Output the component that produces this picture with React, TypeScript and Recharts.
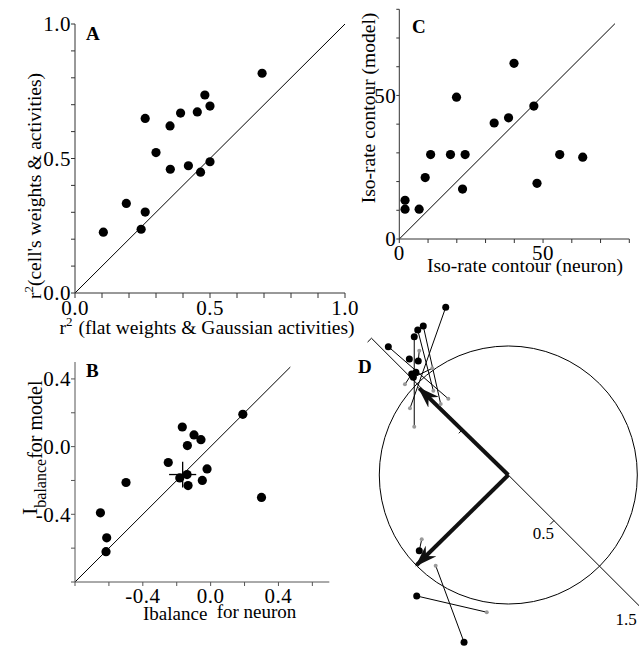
import { ReferenceDot, ReferenceLine, Scatter, ScatterChart, XAxis, YAxis } from "recharts";

const FONT = '"Liberation Serif", "Times New Roman", Times, serif';

// A: r² of the two fits for each cell
const aFlatR2 = [0.105, 0.19, 0.26, 0.245, 0.26, 0.3, 0.352, 0.353, 0.391, 0.42, 0.453, 0.465, 0.481, 0.5, 0.5, 0.693];
const aCellR2 = [0.226, 0.333, 0.301, 0.237, 0.649, 0.522, 0.621, 0.46, 0.669, 0.473, 0.673, 0.449, 0.736, 0.695, 0.488, 0.817];
const aTicks = [0, 0.1, 0.2, 0.3, 0.4, 0.5, 0.6, 0.7, 0.8, 0.9, 1];
const aTickLabels = [0, 0.5, 1];

// B: I_balance, neuron vs model
const bNeuron = [0.19, -0.167, -0.098, -0.057, -0.137, -0.25, -0.021, -0.182, -0.139, -0.133, -0.049, -0.499, 0.3, -0.65, -0.613, -0.617];
const bModel = [0.191, 0.116, 0.069, 0.041, 0.006, -0.094, -0.132, -0.185, -0.165, -0.23, -0.2, -0.212, -0.3, -0.391, -0.539, -0.621];
const bMean = [-0.165, -0.165]; // neuron, model
const bSpread = [0.08, 0.076];
const bXTicks = [-0.8, -0.6, -0.4, -0.2, 0, 0.2, 0.4, 0.6];
const bYTicks = [-0.8, -0.6, -0.4, -0.2, 0, 0.2, 0.4];
const bTickLabels = [-0.4, 0, 0.4];

// C: iso-rate contour, neuron vs model
const cNeuron = [2, 2, 6.9, 9, 10.9, 17.8, 19.9, 22, 22.9, 33, 38, 39.9, 46.8, 47.9, 55.8, 63.8];
const cModel = [13.5, 10.4, 10.4, 21.4, 29.4, 29.4, 49.4, 17.4, 29.4, 40.4, 42.2, 61.2, 46.3, 19.4, 29.4, 28.5];
const cTicks = [0, 10, 20, 30, 40, 50, 60, 70, 80];
const cTickLabels = [0, 50];

// D: neuron (black) and model (grey) vectors, plus the two mean vectors
const dNeuronX = [-0.485, -0.93, -0.659, -0.702, -0.729, -0.698, -0.749, -0.736, -0.767, -0.716, -0.69, -0.343, -0.71];
const dNeuronY = [1.3, 0.995, 1.155, 1.124, 1.072, 0.884, 0.783, 0.757, 0.899, 0.796, -0.587, -1.297, -0.938];
const dModelX = [-0.762, -0.465, -0.524, -0.581, -0.729, -0.69, -0.801, -0.589, null, null, -0.671, -0.563, -0.167];
const dModelY = [0.517, 0.591, 0.55, 0.653, 0.374, 0.964, 0.703, 0.827, null, null, -0.498, -0.703, -1.064];
const dMeanX = [-0.69, -0.71];
const dMeanY = [0.672, -0.698];
const dAxisTicks = [-1.5, -0.5, 0.5, 1.5];
const dAxisLabels = [0.5, 1.5];

const labelOnly = (labels: number[], digits: number) => (v: number) =>
    labels.some((l) => Math.abs(l - v) < 1e-6) ? v.toFixed(digits) : "";

const dot = (r: number, fill: string) => (p: any) => <circle cx={p.cx} cy={p.cy} r={r} fill={fill} />;

const TICK_FONT = 21;

const axisStyle = {
    type: "number" as const,
    stroke: "#333",
    fontSize: TICK_FONT,
    tick: { fontSize: TICK_FONT, fill: "#000", fontFamily: FONT, letterSpacing: 0.5 },
    tickMargin: 0,
    interval: 0 as const,
    allowDataOverflow: true,
};

const letter = { fontSize: 19, fontWeight: 700, fontFamily: FONT };
const title = { fontFamily: FONT, fill: "#000" };

function PanelA() {
    const data = aFlatR2.map((x, i) => ({ x, y: aCellR2[i] }));
    return (
        <ScatterChart width={360} height={345} margin={{ top: 24, right: 15, bottom: 0, left: 0 }}>
            <XAxis {...axisStyle} dataKey="x" domain={[0, 1]} ticks={aTicks} tickFormatter={labelOnly(aTickLabels, 1)} height={52} tickSize={5} tickMargin={2} />
            <YAxis {...axisStyle} dataKey="y" domain={[0, 1]} ticks={aTicks} tickFormatter={labelOnly(aTickLabels, 1)} width={75} tickSize={4} />
            <ReferenceLine segment={[{ x: 0, y: 0 }, { x: 1, y: 1 }]} stroke="#000" ifOverflow="visible" />
            <Scatter data={data} shape={dot(4.6, "#000")} isAnimationActive={false} />
            <text x={86} y={40} {...letter}>A</text>
            <text x={207} y={334} textAnchor="middle" fontSize={19.5} {...title}>
                r<tspan fontSize={13} dy={-8}>2</tspan>
                <tspan dy={8} dx={6}>(flat weights &amp; Gaussian activities)</tspan>
            </text>
            <text x={41} y={186} transform="rotate(-90, 41, 186)" textAnchor="middle" fontSize={19.5} {...title}>
                r<tspan fontSize={13} dy={-8}>2</tspan>
                <tspan dy={8}>(cell's weights &amp; activities)</tspan>
            </text>
        </ScatterChart>
    );
}

function PanelB() {
    const data = bNeuron.map((x, i) => ({ x, y: bModel[i] }));
    const [mx, my] = bMean;
    const [sx, sy] = bSpread;
    return (
        <ScatterChart width={340} height={306} margin={{ top: 22, right: 10.7, bottom: 0, left: 0 }}>
            <XAxis {...axisStyle} stroke="#555" dataKey="x" domain={[-0.8, 0.7]} ticks={bXTicks} tickFormatter={labelOnly(bTickLabels, 1)} height={64} tickSize={4} tickMargin={2} />
            <YAxis {...axisStyle} stroke="#555" dataKey="y" domain={[-0.8, 0.5]} ticks={bYTicks} tickFormatter={labelOnly(bTickLabels, 1)} width={75} tickSize={4} />
            <ReferenceLine segment={[{ x: -0.8, y: -0.8 }, { x: 0.47, y: 0.47 }]} stroke="#000" ifOverflow="visible" />
            {/* mean ± spread */}
            <ReferenceLine segment={[{ x: mx - sx, y: my }, { x: mx + sx, y: my }]} stroke="#000" strokeWidth={1.3} ifOverflow="visible" />
            <ReferenceLine segment={[{ x: mx, y: my - sy }, { x: mx, y: my + sy }]} stroke="#000" strokeWidth={1.3} ifOverflow="visible" />
            <Scatter data={data} shape={dot(4.6, "#000")} isAnimationActive={false} />
            <text x={86} y={37} {...letter}>B</text>
            <text x={143} y={280} fontSize={19} {...title}>
                Ibalance<tspan x={216.7} dy={-2.5}>for neuron</tspan>
            </text>
            <text x={37} y={175} transform="rotate(-90, 37, 175)" fontSize={22} {...title}>
                I<tspan fontSize={16} dy={9}>balance</tspan>
                <tspan fontSize={20} dy={-4}>for model</tspan>
            </text>
        </ScatterChart>
    );
}

function PanelC() {
    const data = cNeuron.map((x, i) => ({ x, y: cModel[i] }));
    return (
        <ScatterChart width={289} height={280} margin={{ top: 9.3, right: 9.7, bottom: 0, left: 0 }}>
            <XAxis {...axisStyle} dataKey="x" domain={[0, 80]} ticks={cTicks} tickFormatter={labelOnly(cTickLabels, 0)} height={41} tickSize={4} tickMargin={2} />
            <YAxis {...axisStyle} dataKey="y" domain={[0, 80]} ticks={cTicks} tickFormatter={labelOnly(cTickLabels, 0)} width={49.3} tickSize={3} />
            <ReferenceLine segment={[{ x: 0, y: 0 }, { x: 75, y: 75 }]} stroke="#000" ifOverflow="visible" />
            <Scatter data={data} shape={dot(4.6, "#000")} isAnimationActive={false} />
            <text x={62} y={33} {...letter}>C</text>
            <text x={175} y={272} textAnchor="middle" fontSize={19.5} {...title}>Iso-rate contour (neuron)</text>
            <text x={25} y={108} transform="rotate(-90, 25, 108)" textAnchor="middle" fontSize={19.5} {...title}>Iso-rate contour (model)</text>
        </ScatterChart>
    );
}

const D_W = 309;
const D_H = 366;
const dXDomain = [-1.382, 1.013];
const dYDomain = [-1.326, 1.512];
const D_UNIT = D_W / (dXDomain[1] - dXDomain[0]);

function PanelD() {
    const neurons = dNeuronX.map((x, i) => ({ x, y: dNeuronY[i] }));
    const models = dModelX
        .map((x, i) => ({ x, y: dModelY[i], i }))
        .filter((p) => p.x !== null && p.y !== null) as { x: number; y: number; i: number }[];
    // radial axis runs along the 135°/-45° diagonal
    const ux = Math.SQRT1_2;
    const uy = -Math.SQRT1_2;
    const tickLen = 0.03;
    const axisStart = dAxisTicks[0];
    const axisEnd = dAxisTicks[dAxisTicks.length - 1];
    return (
        <ScatterChart width={D_W} height={D_H} margin={{ top: 0, right: 0, bottom: 0, left: 0 }}>
            <defs>
                <marker id="meanHead" viewBox="0 0 22 15" refX={20} refY={7.5} markerWidth={22} markerHeight={15} markerUnits="userSpaceOnUse" orient="auto">
                    <path d="M0,0 L22,7.5 L0,15 L7,7.5 Z" fill="#111" />
                </marker>
            </defs>
            <XAxis type="number" dataKey="x" domain={dXDomain} hide allowDataOverflow />
            <YAxis type="number" dataKey="y" domain={dYDomain} hide allowDataOverflow />
            <ReferenceDot x={0} y={0} r={D_UNIT} fill="none" stroke="#000" strokeWidth={1} ifOverflow="visible" />
            <ReferenceLine
                segment={[{ x: axisStart * ux, y: axisStart * uy }, { x: axisEnd * ux, y: axisEnd * uy }]}
                stroke="#000"
                ifOverflow="visible"
            />
            {dAxisTicks.map((t) => (
                <ReferenceLine
                    key={`t${t}`}
                    segment={[{ x: t * ux, y: t * uy }, { x: t * ux - tickLen, y: t * uy - tickLen }]}
                    stroke="#000"
                    ifOverflow="visible"
                />
            ))}
            {models.map((m) => (
                <ReferenceLine
                    key={`p${m.i}`}
                    segment={[{ x: dNeuronX[m.i], y: dNeuronY[m.i] }, { x: m.x, y: m.y }]}
                    stroke="#000"
                    strokeWidth={1}
                    ifOverflow="visible"
                />
            ))}
            <Scatter data={models} shape={dot(2, "#9a9a9a")} isAnimationActive={false} />
            <Scatter data={neurons} shape={dot(3.5, "#000")} isAnimationActive={false} />
            {dMeanX.map((x, i) => (
                <ReferenceLine
                    key={`m${i}`}
                    segment={[{ x: 0, y: 0 }, { x, y: dMeanY[i] }]}
                    stroke="#111"
                    strokeWidth={4}
                    markerEnd="url(#meanHead)"
                    ifOverflow="visible"
                />
            ))}
            <text x={28} y={93} {...letter}>D</text>
            <text x={213.3} y={253.3} dy="0.35em" textAnchor="middle" fontSize={17} {...title}>{dAxisLabels[0].toFixed(1)}</text>
            <text x={296} y={339} dy="0.35em" textAnchor="middle" fontSize={17} {...title}>{dAxisLabels[1].toFixed(1)}</text>
        </ScatterChart>
    );
}

export default function App() {
    return (
        <div style={{ position: "absolute", left: 0, top: 0, width: 639, height: 646, background: "#fff", fontFamily: FONT, overflow: "hidden" }}>
            <div style={{ position: "absolute", left: 0, top: 0 }}>
                <PanelA />
            </div>
            <div style={{ position: "absolute", left: 350, top: 0 }}>
                <PanelC />
            </div>
            <div style={{ position: "absolute", left: 0, top: 340 }}>
                <PanelB />
            </div>
            <div style={{ position: "absolute", left: 330, top: 280 }}>
                <PanelD />
            </div>
        </div>
    );
}
